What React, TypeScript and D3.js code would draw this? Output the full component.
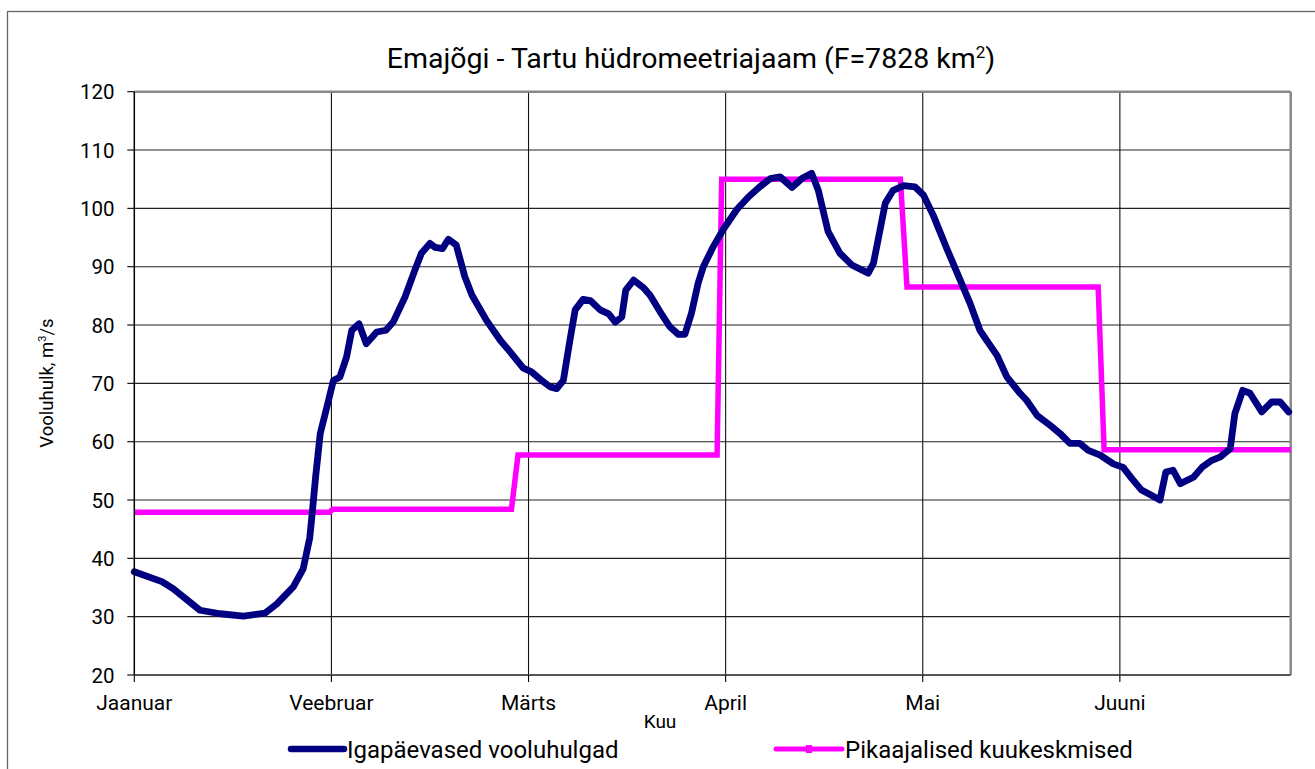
import React from "react";
import * as d3 from "d3";

// ---- data ----
const titleText = "Emajõgi - Tartu hüdromeetriajaam (F=7828 km";
const yTicks = [20, 30, 40, 50, 60, 70, 80, 90, 100, 110, 120];
const monthLabels = ["Jaanuar", "Veebruar", "Märts", "April", "Mai", "Juuni"];
const monthTickDays = [0, 30, 60, 90, 120, 150];

// daily discharge (day index, m3/s)
const dailyDays = [
  0, 4.2, 5.9, 10.0, 13.1, 16.6, 19.9, 21.7, 24.2, 25.7, 26.7, 27.1, 27.6, 28.3, 29.5, 30.3,
  31.3, 32.3, 33.1, 34.2, 35.3, 36.9, 38.3, 39.4, 41.2, 42.7, 43.7, 45.0, 45.8, 46.9, 47.8,
  49.0, 50.3, 51.4, 53.6, 55.7, 57.2, 59.2, 60.4, 62.0, 63.3, 64.3, 65.3, 66.3, 67.1, 68.3,
  69.4, 70.9, 72.2, 73.2, 74.2, 74.8, 76.0, 77.5, 78.5, 80.0, 81.5, 82.8, 83.8, 84.8, 85.8,
  86.6, 88.1, 89.7, 91.7, 93.5, 95.2, 96.8, 98.3, 100.1, 101.6, 103.1, 104.1, 105.6, 107.4,
  109.2, 111.7, 112.5, 113.5, 114.3, 115.5, 117.1, 118.8, 120.1, 121.6, 123.7, 125.7, 127.2,
  128.7, 129.7, 131.3, 132.8, 134.8, 135.8, 137.4, 139.4, 140.9, 142.4, 143.9, 145.2, 147.0,
  149.0, 150.5, 151.8, 153.3, 154.3, 156.1, 157.0, 158.1, 159.2, 161.2, 162.5, 164.0, 165.3,
  166.8, 167.5, 168.7, 169.8, 171.6, 173.1, 174.4, 175.7,
];
const dailyFlow = [
  37.7, 36.0, 34.8, 31.1, 30.5, 30.1, 30.6, 32.2, 35.1, 38.2, 43.5, 48.0, 54.0, 61.4, 66.8, 70.5,
  71.1, 74.5, 79.1, 80.2, 76.8, 78.8, 79.1, 80.5, 84.8, 89.4, 92.3, 94.0, 93.3, 93.1, 94.7,
  93.7, 88.3, 85.1, 80.8, 77.4, 75.4, 72.6, 72.0, 70.5, 69.4, 69.1, 70.5, 77.4, 82.6, 84.4,
  84.2, 82.6, 81.9, 80.5, 81.4, 86.0, 87.7, 86.4, 85.1, 82.3, 79.7, 78.4, 78.4, 82.0, 87.1,
  90.0, 93.4, 96.5, 99.8, 102.0, 103.7, 105.1, 105.4, 103.6, 105.1, 106.0, 103.1, 96.0, 92.3,
  90.3, 88.9, 90.6, 96.3, 100.9, 103.1, 103.9, 103.7, 102.3, 98.8, 93.0, 87.7, 83.7,
  79.1, 77.4, 74.8, 71.1, 68.3, 67.1, 64.5, 62.8, 61.4, 59.7, 59.7, 58.5, 57.7,
  56.2, 55.6, 53.7, 51.7, 51.1, 50.0, 54.8, 55.1, 52.8, 53.9, 55.6, 56.8, 57.4,
  58.8, 64.8, 68.8, 68.3, 65.1, 66.8, 66.8, 65.1,
];

// long-term monthly means
const monthlyMean = [47.9, 48.4, 57.7, 105.0, 86.5, 58.6];
const meanStartDay = [0, 30.2, 58.4, 89.4, 117.6, 147.6];
const meanEndDay = [29.7, 57.4, 88.7, 116.6, 146.7, 176];

const seriesNames = ["Igapäevased vooluhulgad", "Pikaajalised kuukeskmised"];
const blue = "#000080";
const pink = "#FF00FF";

export default function App() {
  const W = 1315;
  const H = 769;
  const left = 134.3;
  const right = 1290.7;
  const top = 91.7;
  const bottom = 675;

  const x = d3.scaleLinear().domain([0, 176]).range([left, right]);
  const y = d3.scaleLinear().domain([20, 120]).range([bottom, top]);

  const dailyPts: [number, number][] = dailyDays.map((d, i) => [d, dailyFlow[i]]);
  const meanPts: [number, number][] = [];
  monthlyMean.forEach((v, i) => {
    meanPts.push([meanStartDay[i], v]);
    meanPts.push([meanEndDay[i], v]);
  });

  const line = d3
    .line<[number, number]>()
    .x((d) => x(d[0]))
    .y((d) => y(d[1]))
    .curve(d3.curveLinear);

  const font = "Roboto, 'Open Sans', sans-serif";

  return (
    <svg
      width={W}
      height={H}
      style={{ position: "absolute", left: 0, top: 0, background: "#fff" }}
      fontFamily={font}
    >
      <rect x={0} y={0} width={W} height={H} fill="#fff" />
      {/* outer frame */}
      <rect x={7.5} y={11.5} width={1330} height={800} fill="none" stroke="#666" strokeWidth={1.3} />

      {/* title */}
      <text x={691} y={68} textAnchor="middle" fontSize={28.5} fill="#000">
        {titleText}
        <tspan fontSize={17} dy={-10}>2</tspan>
        <tspan fontSize={28.5} dy={10}>)</tspan>
      </text>

      {/* horizontal grid */}
      {yTicks.map((t) =>
        t === 20 || t === 120 ? null : (
          <line key={"h" + t} x1={left} x2={right} y1={y(t)} y2={y(t)} stroke="#222" strokeWidth={1.1} />
        )
      )}
      {/* vertical grid */}
      {monthTickDays.map((d) =>
        d === 0 ? null : (
          <line key={"v" + d} x1={x(d)} x2={x(d)} y1={top} y2={bottom} stroke="#111" strokeWidth={1.1} />
        )
      )}
      {/* plot border top/right */}
      <line x1={left} x2={right} y1={top} y2={top} stroke="#888" strokeWidth={2.5} />
      <line x1={right} x2={right} y1={top} y2={bottom} stroke="#888" strokeWidth={2.5} />

      {/* series */}
      <path d={line(meanPts) || ""} fill="none" stroke={pink} strokeWidth={5.5} strokeLinejoin="miter" />
      <path
        d={line(dailyPts) || ""}
        fill="none"
        stroke={blue}
        strokeWidth={6.8}
        strokeLinejoin="round"
        strokeLinecap="round"
      />

      {/* axes */}
      <line x1={left} x2={left} y1={top} y2={bottom} stroke="#000" strokeWidth={1.5} />
      <line x1={left} x2={right} y1={bottom} y2={bottom} stroke="#555" strokeWidth={2.2} />
      {yTicks.map((t) => (
        <g key={"yt" + t}>
          <line x1={left - 7} x2={left} y1={y(t)} y2={y(t)} stroke="#000" strokeWidth={1.1} />
          <text x={114.5} y={y(t) + 7.5} textAnchor="end" fontSize={20.5} fill="#000">
            {t}
          </text>
        </g>
      ))}
      {monthTickDays.map((d, i) => (
        <g key={"xt" + d}>
          <line x1={x(d)} x2={x(d)} y1={bottom} y2={bottom + 7} stroke="#000" strokeWidth={1.1} />
          <text x={x(d)} y={709.5} textAnchor="middle" fontSize={21} fill="#000">
            {monthLabels[i]}
          </text>
        </g>
      ))}

      {/* axis titles */}
      <text x={660} y={728} textAnchor="middle" fontSize={19} fill="#000">
        Kuu
      </text>
      <text transform="translate(53,383) rotate(-90)" textAnchor="middle" fontSize={18.5} fill="#000">
        Vooluhulk, m<tspan fontSize={11} dy={-7}>3</tspan>
        <tspan dy={7}>/s</tspan>
      </text>

      {/* legend */}
      <line x1={291} x2={344} y1={749} y2={749} stroke={blue} strokeWidth={6.5} strokeLinecap="round" />
      <text x={347} y={758} fontSize={24} fill="#000">
        {seriesNames[0]}
      </text>
      <line x1={776} x2={842} y1={749} y2={749} stroke={pink} strokeWidth={5} strokeLinecap="round" />
      <rect x={806} y={745} width={6} height={8} fill={pink} />
      <text x={845} y={758} fontSize={24} fill="#000">
        {seriesNames[1]}
      </text>
    </svg>
  );
}
